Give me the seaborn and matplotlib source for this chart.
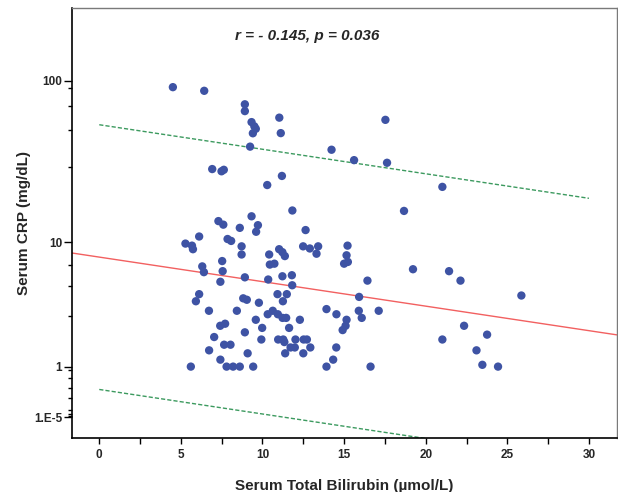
import numpy as np
import pandas as pd
import matplotlib
matplotlib.use("Agg")
import matplotlib.pyplot as plt
import seaborn as sns
from matplotlib.ticker import FixedLocator, FixedFormatter

# ── data ─────────────────────────────────────────────────────────────────────
bilirubin = [
    4.51, 6.43, 8.92, 8.92, 9.33, 9.50, 9.59, 9.41, 11.03, 11.12,
    9.24, 6.92, 7.49, 7.63, 11.19, 10.29, 11.83, 7.30, 7.60, 9.33,
    9.72, 9.61, 8.61, 6.12, 12.64, 5.28, 5.68, 5.74, 7.86, 8.08,
    8.72, 11.02, 11.22, 11.37, 12.49, 12.90, 13.41, 13.31, 15.21, 15.15,
    15.23, 15.00, 8.72, 10.41, 7.53, 7.56, 6.31, 6.41, 10.45, 10.73,
    8.92, 10.35, 11.22, 11.80, 11.82, 7.42, 19.22, 21.43, 22.13, 16.43,
    15.92, 25.86, 6.12, 5.92, 8.82, 9.04, 9.78, 10.92, 11.49, 11.25,
    6.72, 8.43, 13.92, 14.53, 15.90, 17.12, 16.08, 10.32, 10.63, 10.94,
    11.23, 11.45, 12.29, 9.59, 15.15, 15.09, 14.91, 7.41, 7.71, 8.92,
    9.98, 11.63, 22.35, 23.76, 21.02, 7.04, 9.93, 10.96, 11.27, 11.34,
    12.02, 12.52, 12.72, 12.93, 12.50, 14.52, 7.65, 8.04, 11.72, 11.98,
    11.39, 6.73, 9.09, 23.11, 14.33, 7.42, 5.61, 7.80, 8.20, 8.61,
    9.43, 13.92, 16.62, 23.47, 24.43, 17.53, 14.23, 15.61, 17.63, 21.02,
    18.67,
]
crp = [
    91.2, 86.7, 71.9, 65.4, 56.1, 52.9, 51.1, 48.0, 59.7, 48.1,
    39.8, 29.0, 28.1, 28.7, 26.3, 23.1, 16.0, 13.7, 13.0, 14.7,
    12.9, 11.7, 12.4, 10.9, 12.0, 9.8, 9.5, 9.0, 10.5, 10.2,
    9.4, 9.0, 8.6, 8.1, 9.4, 9.1, 9.4, 8.4, 9.5, 8.2,
    7.4, 7.2, 8.3, 8.3, 7.5, 6.4, 6.9, 6.3, 7.1, 7.2,
    5.8, 5.6, 5.9, 6.0, 5.1, 5.4, 6.6, 6.4, 5.5, 5.5,
    4.2, 4.3, 4.4, 3.9, 4.1, 4.0, 3.8, 4.4, 4.4, 3.9,
    3.3, 3.3, 3.4, 3.1, 3.3, 3.3, 2.9, 3.1, 3.3, 3.1,
    2.9, 2.9, 2.8, 2.8, 2.8, 2.5, 2.3, 2.5, 2.6, 2.2,
    2.4, 2.4, 2.5, 2.1, 1.9, 2.0, 1.9, 1.9, 1.9, 1.8,
    1.9, 1.9, 1.9, 1.6, 1.4, 1.6, 1.7, 1.7, 1.6, 1.6,
    1.4, 1.5, 1.4, 1.5, 1.2, 1.2, 1.0, 1.0, 1.0, 1.0,
    1.0, 1.0, 1.0, 1.05, 1.0, 57.9, 38.1, 32.9, 31.7, 22.5,
    15.9,
]
df = pd.DataFrame({"bilirubin": bilirubin, "crp": crp})

# regression line and 95% prediction band, in safe-log10 units
FIT_INTERCEPT = 0.953
FIT_SLOPE     = -0.0146
PI_HALF       = 0.788

Y_MAJOR  = [1e-5, 1, 10, 100]
Y_LABELS = ["1.E-5", "1", "10", "100"]
Y_MINOR  = [0.01, 0.05, 0.1, 0.3, 0.5, 0.7, 0.9, 3, 5, 7, 30, 50, 70, 90]

POINT_COLOR = "#3E53A4"


def safelog(v):
    v = np.asarray(v, dtype=float)
    return np.sign(v) * np.log10(np.abs(v) + 1)


def safelog_inv(t):
    t = np.asarray(t, dtype=float)
    return np.sign(t) * (10 ** np.abs(t) - 1)


sns.set_theme(style="white")
plt.rcParams["font.family"] = ["Liberation Sans", "DejaVu Sans"]

fig = plt.figure(figsize=(6.18, 4.92), dpi=100)
ax = fig.add_axes([0.1165, 0.1098, 0.8814, 0.874])
ax.set_yscale("function", functions=(safelog, safelog_inv))

sns.scatterplot(data=df, x="bilirubin", y="crp", ax=ax, color=POINT_COLOR,
                s=36, edgecolor="none", linewidth=0, zorder=3)

xlim = (-1.67, 31.7)
xs = np.linspace(xlim[0], xlim[1], 100)
ax.plot(xs, safelog_inv(FIT_INTERCEPT + FIT_SLOPE * xs),
        color="#F26060", lw=1.0, zorder=2)
xp = np.linspace(0, 30, 100)
for sgn in (1, -1):
    ax.plot(xp, safelog_inv(FIT_INTERCEPT + FIT_SLOPE * xp + sgn * PI_HALF),
            color="#3C9A5F", lw=1.0, ls=(0, (3, 1.5)), zorder=2)

ax.set_xlim(*xlim)
ax.set_ylim(-0.33, 272)

ax.set_xticks([0, 5, 10, 15, 20, 25, 30])
ax.xaxis.set_minor_locator(FixedLocator([2.5, 7.5, 12.5, 17.5, 22.5, 27.5]))
ax.yaxis.set_major_locator(FixedLocator(Y_MAJOR))
ax.yaxis.set_major_formatter(FixedFormatter(Y_LABELS))
ax.yaxis.set_minor_locator(FixedLocator(Y_MINOR))
ax.yaxis.set_minor_formatter(FixedFormatter([""] * len(Y_MINOR)))

ax.tick_params(axis="x", which="both", direction="out", length=4, width=1,
               color="black", bottom=True, labelsize=8.5, pad=4)
ax.tick_params(axis="y", which="major", direction="out", length=6, width=1,
               color="black", left=True, labelsize=8.5, pad=1)
ax.tick_params(axis="y", which="minor", direction="out", length=3, width=1,
               color="black", left=True)
for lab in ax.get_xticklabels() + ax.get_yticklabels():
    lab.set_fontweight("bold")

for side in ["left", "bottom"]:
    ax.spines[side].set_color("black")
    ax.spines[side].set_linewidth(1.2)
for side in ["top", "right"]:
    ax.spines[side].set_color("#7a7a7a")
    ax.spines[side].set_linewidth(1.0)

ax.set_xlabel("Serum Total Bilirubin (µmol/L)", fontsize=11, fontweight="bold",
              labelpad=13)
ax.set_ylabel("Serum CRP (mg/dL)", fontsize=11, fontweight="bold", labelpad=2)

ax.text(0.431, 0.935, "r = - 0.145, p = 0.036", transform=ax.transAxes,
        ha="center", va="center", fontsize=11, fontweight="bold",
        fontstyle="italic")

fig.savefig("out.png", dpi=100)
